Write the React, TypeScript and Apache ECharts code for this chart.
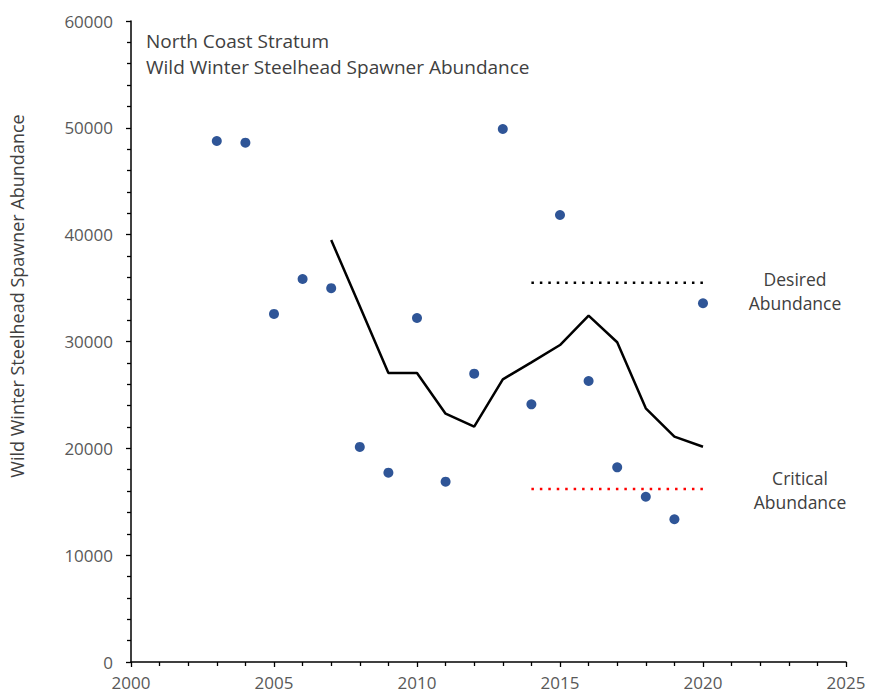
import React, { useEffect, useRef } from "react";
import * as echarts from "echarts";

const years = [2003, 2004, 2005, 2006, 2007, 2008, 2009, 2010, 2011, 2012, 2013, 2014, 2015, 2016, 2017, 2018, 2019, 2020];
const abundance = [48770, 48610, 32580, 35850, 34990, 20130, 17720, 32200, 16880, 26990, 49890, 24120, 41840, 26300, 18220, 15470, 13360, 33580];
const meanYears = [2007, 2008, 2009, 2010, 2011, 2012, 2013, 2014, 2015, 2016, 2017, 2018, 2019, 2020];
const meanValues = [39500, 33300, 27050, 27050, 23240, 22030, 26460, 28050, 29670, 32420, 29930, 23750, 21090, 20150];
const refYears = [2014, 2020];
const desiredAbundance = 35500;
const criticalAbundance = 16200;
const titleLines = ["North Coast Stratum", "Wild Winter Steelhead Spawner Abundance"];
const yAxisTitle = "Wild Winter Steelhead Spawner Abundance";

const FONT = "'Open Sans', 'Noto Sans', sans-serif";

export default function App() {
  const ref = useRef<HTMLDivElement>(null);
  useEffect(() => {
    if (!ref.current) return;
    const chart = echarts.init(ref.current, null, { renderer: "svg" });
    const axisCommon = {
      axisLine: { show: true, onZero: false, lineStyle: { color: "#000", width: 1.5 } },
      axisTick: { show: true, inside: false, length: 5, lineStyle: { color: "#000", width: 1.3 } },
      minorTick: { show: true, splitNumber: 5, length: 4, lineStyle: { color: "#000", width: 1.3 } },
      splitLine: { show: false },
      minorSplitLine: { show: false },
      axisLabel: { color: "#595959", fontSize: 17, fontFamily: FONT, formatter: (v: number) => String(v) },
    };
    chart.setOption({
      animation: false,
      grid: { left: 131, right: 23, top: 21, bottom: 33, containLabel: false },
      xAxis: {
        type: "value",
        min: 2000,
        max: 2025,
        interval: 5,
        ...axisCommon,
        axisLabel: { ...axisCommon.axisLabel, margin: 12 },
      },
      yAxis: {
        type: "value",
        min: 0,
        max: 60000,
        interval: 10000,
        ...axisCommon,
        axisLabel: { ...axisCommon.axisLabel, margin: 18 },
      },
      series: [
        {
          type: "line",
          data: meanYears.map((y, i) => [y, meanValues[i]]),
          symbol: "none",
          lineStyle: { color: "#000", width: 2.5 },
          z: 2,
        },
        {
          type: "line",
          data: refYears.map((y) => [y, desiredAbundance]),
          symbol: "none",
          lineStyle: { color: "#000", width: 2.5, type: [2.5, 5.95] },
          z: 2,
        },
        {
          type: "line",
          data: refYears.map((y) => [y, criticalAbundance]),
          symbol: "none",
          lineStyle: { color: "#ff0000", width: 2.5, type: [2.5, 5.95] },
          z: 2,
        },
        {
          type: "scatter",
          data: years.map((y, i) => [y, abundance[i]]),
          symbol: "circle",
          symbolSize: 10,
          itemStyle: { color: "#2F5597", opacity: 1 },
          z: 3,
        },
      ],
      graphic: [
        {
          type: "text",
          left: 146,
          top: 28,
          style: {
            text: titleLines.join("\n"),
            font: `19px ${FONT}`,
            fill: "#404040",
            lineHeight: 26,
          },
        },
        {
          type: "text",
          x: 17,
          y: 296,
          rotation: Math.PI / 2,
          style: {
            text: yAxisTitle,
            font: `18px ${FONT}`,
            fill: "#404040",
            align: "center",
            verticalAlign: "middle",
          },
        },
        {
          type: "text",
          x: 795,
          y: 291,
          style: {
            text: "Desired\nAbundance",
            font: `17.5px ${FONT}`,
            fill: "#404040",
            align: "center",
            verticalAlign: "middle",
            lineHeight: 24,
          },
        },
        {
          type: "text",
          x: 800,
          y: 490,
          style: {
            text: "Critical\nAbundance",
            font: `17.5px ${FONT}`,
            fill: "#404040",
            align: "center",
            verticalAlign: "middle",
            lineHeight: 24,
          },
        },
      ],
    });
    return () => chart.dispose();
  }, []);
  return <div ref={ref} style={{ width: 869, height: 695, position: "absolute", left: 0, top: 0 }} />;
}
